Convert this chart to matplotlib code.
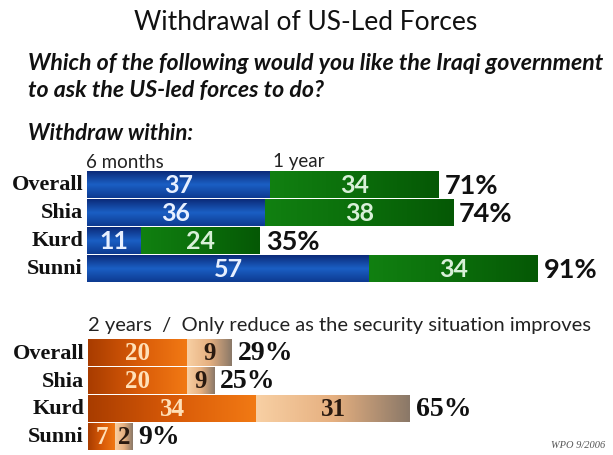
import numpy as np
import matplotlib
matplotlib.use("Agg")
import matplotlib.pyplot as plt
from matplotlib.colors import LinearSegmentedColormap

# ---------------- data ----------------
groups = ["Overall", "Shia", "Kurd", "Sunni"]

# Withdraw within 6 months / 1 year
six_months = [37, 36, 11, 57]
one_year = [34, 38, 24, 34]
six_labels = ["37", "36", "11", "57"]
year_labels = ["34", "38", "24", "34"]
top_totals = ["71%", "74%", "35%", "91%"]

# 2 years / Only reduce as security improves (bar lengths as drawn)
two_years = [20, 20, 34, 5.5]
reduce_only = [9, 5.5, 31, 3.5]
two_labels = ["20", "20", "34", "7"]
reduce_labels = ["9", "9", "31", "2"]
bottom_totals = ["29%", "25%", "65%", "9%"]

W, H = 613, 456
fig = plt.figure(figsize=(W / 100, H / 100), dpi=100)
fig.patch.set_facecolor("white")

SANS = ["Lato", "DejaVu Sans"]
SERIF = ["Liberation Serif", "DejaVu Serif"]


def fx(px):
    return px / W


def fy(py):
    return 1 - py / H


def gradient_fill(ax, bars, colors, direction="h"):
    cmap = LinearSegmentedColormap.from_list("g", colors)
    for b in bars:
        x0, y0 = b.get_x(), b.get_y()
        w, h = b.get_width(), b.get_height()
        if direction == "h":
            grad = np.linspace(0, 1, 256).reshape(1, -1)
        else:
            grad = np.linspace(0, 1, 256).reshape(-1, 1)
        im = ax.imshow(grad, cmap=cmap, aspect="auto",
                       extent=(x0, x0 + w, y0 + h, y0), origin="upper",
                       zorder=2, interpolation="bilinear")
        im.set_clip_path(b)


# ---------------- titles ----------------
fig.text(fx(306), fy(22), "Withdrawal of US-Led Forces", ha="center", va="center",
         fontsize=19, family=SANS, color="#111111")
fig.text(fx(28), fy(63), "Which of the following would you like the Iraqi government",
         ha="left", va="center", fontsize=16.7, family=SANS, weight="bold",
         style="italic", color="#111111")
fig.text(fx(28), fy(91), "to ask the US-led forces to do?",
         ha="left", va="center", fontsize=16.7, family=SANS, weight="bold",
         style="italic", color="#111111")
fig.text(fx(28), fy(134), "Withdraw within:", ha="left", va="center",
         fontsize=16, family=SANS, weight="bold", style="italic", color="#111111")
fig.text(fx(86), fy(162), "6 months", ha="left", va="center", fontsize=13.5,
         family=SANS, color="#222222")
fig.text(fx(273), fy(162), "1 year", ha="left", va="center", fontsize=13.5,
         family=SANS, color="#222222")
fig.text(fx(88), fy(326), "2 years  /  Only reduce as the security situation improves",
         ha="left", va="center", fontsize=14.5, family=SANS, color="#222222")
fig.text(fx(605), fy(446), "WPO 9/2006", ha="right", va="center", fontsize=7.5,
         family=SERIF, style="italic", color="#555555")

scale = 4.95  # px per percentage point
y_idx = np.arange(len(groups))

# ---------------- top panel ----------------
ax1 = fig.add_axes([fx(87), fy(283.5), fx(W - 87), (283.5 - 171.5) / H])
b1 = ax1.barh(y_idx, six_months, height=0.96, color="#1a56b0", zorder=1)
b2 = ax1.barh(y_idx, one_year, left=six_months, height=0.96, color="#0a6a0a", zorder=1)
gradient_fill(ax1, b1, ["#0b2a78", "#1b5fc4", "#0d3a90"], "v")
gradient_fill(ax1, b2, ["#118011", "#0b6e0b", "#055805"], "h")
for i in y_idx:
    ax1.text(six_months[i] / 2, i, six_labels[i], ha="center", va="center",
             fontsize=18, family=SANS, weight="bold", color="#e8f0ff", zorder=5)
    ax1.text(six_months[i] + one_year[i] / 2, i, year_labels[i], ha="center",
             va="center", fontsize=18, family=SANS, weight="bold",
             color="#d8f0d8", zorder=5)
    ax1.text(six_months[i] + one_year[i] + 1.2, i, top_totals[i], ha="left",
             va="center", fontsize=19.5, family=SANS, weight="bold",
             color="#111111", zorder=5)
    ax1.text(-0.8, i, groups[i], ha="right", va="center", fontsize=16,
             family=SERIF, weight="bold", color="#111111", clip_on=False)
ax1.set_xlim(0, (W - 87) / scale)
ax1.set_ylim(3.5, -0.5)
ax1.axis("off")

# ---------------- bottom panel ----------------
ax2 = fig.add_axes([fx(88), fy(451), fx(W - 88), (451 - 340) / H])
c1 = ax2.barh(y_idx, two_years, height=0.97, color="#d9600a", zorder=1)
c2 = ax2.barh(y_idx, reduce_only, left=two_years, height=0.97, color="#e8b58a", zorder=1)
gradient_fill(ax2, c1, ["#a83c00", "#d85a08", "#f27a14"], "h")
gradient_fill(ax2, c2, ["#f8d0a4", "#e6b080", "#8a7868"], "h")
for i in y_idx:
    ax2.text(two_years[i] / 2, i, two_labels[i], ha="center", va="center",
             fontsize=18, family=SERIF, weight="bold", color="#ffe0b8", zorder=5)
    ax2.text(two_years[i] + reduce_only[i] / 2, i, reduce_labels[i], ha="center",
             va="center", fontsize=18, family=SERIF, weight="bold",
             color="#2a1a10", zorder=5)
    ax2.text(two_years[i] + reduce_only[i] + 1.2, i, bottom_totals[i], ha="left",
             va="center", fontsize=20, family=SERIF, weight="bold",
             color="#111111", zorder=5)
    ax2.text(-0.8, i, groups[i], ha="right", va="center", fontsize=16,
             family=SERIF, weight="bold", color="#111111", clip_on=False)
ax2.set_xlim(0, (W - 88) / scale)
ax2.set_ylim(3.5, -0.5)
ax2.axis("off")

fig.savefig("out.png", dpi=100, facecolor="white")
